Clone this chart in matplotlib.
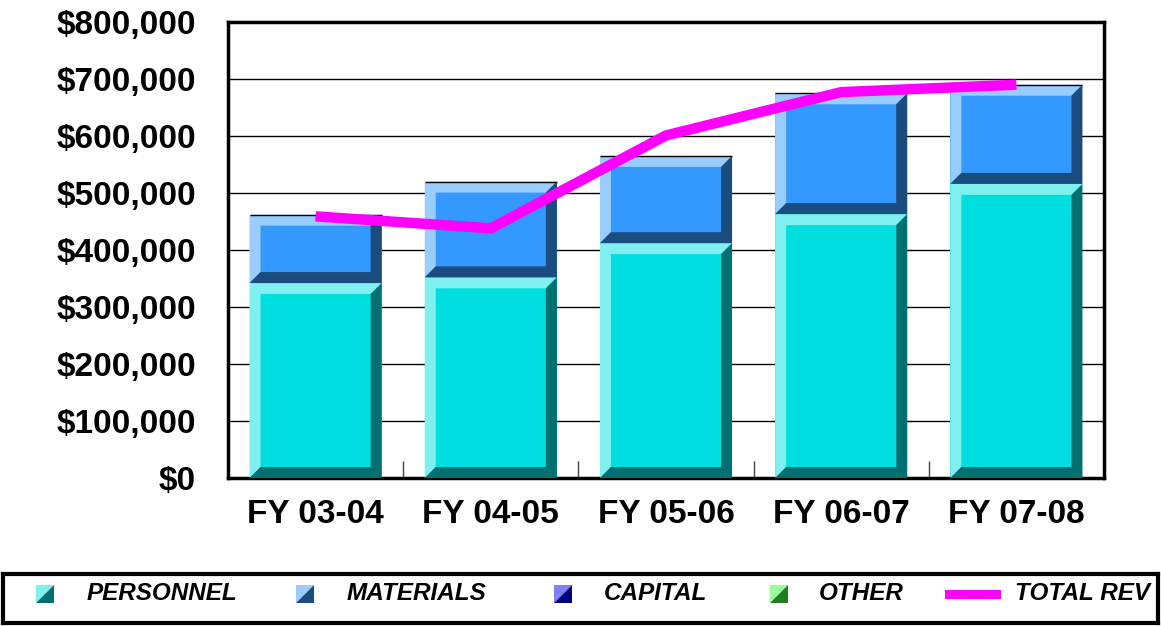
"""Budget vs. revenue chart: stacked bevelled bars with a total revenue line."""
import numpy as np
import matplotlib
matplotlib.use("Agg")
import matplotlib.pyplot as plt
from matplotlib.patches import Polygon, Rectangle
from matplotlib.ticker import FuncFormatter, FixedLocator

plt.rcParams["font.family"] = ["Liberation Sans", "DejaVu Sans"]

years = ["FY 03-04", "FY 04-05", "FY 05-06", "FY 06-07", "FY 07-08"]
personnel = [342000, 352000, 412000, 463000, 516000]
materials = [120000, 168000, 153000, 212000, 174000]
capital = [0, 0, 0, 0, 0]
other = [0, 0, 0, 0, 0]
total_rev = [459000, 438000, 601000, 677000, 690000]

legend_labels = ["PERSONNEL", "MATERIALS", "CAPITAL", "OTHER", "TOTAL REV"]

# (face, light bevel, dark bevel)
colors = {
    "PERSONNEL": ("#00DFDF", "#7FEFEF", "#007070"),
    "MATERIALS": ("#3399FF", "#99CCFF", "#1A4C80"),
    "CAPITAL": ("#3333FF", "#8080FF", "#000080"),
    "OTHER": ("#33CC33", "#99FF99", "#1F7F1F"),
}
line_color = "#FF00FF"

fig = plt.figure(figsize=(11.61, 6.26), dpi=100)
ax = fig.add_axes([228 / 1161, 1 - 478 / 626, 876 / 1161, 456 / 626])

ymax = 800000
ax.set_xlim(-0.5, len(years) - 0.5)
ax.set_ylim(0, ymax)

width = 0.754
# bevel size: ~11 px in both directions, converted to data units
bx = 11 / (876 / len(years))
by = 11 / 456 * ymax


def bevel_bar(x, y0, h, face, light, dark):
    x0, x1 = x - width / 2, x + width / 2
    y1 = y0 + h
    ax.bar(x, h, width, bottom=y0, color=face, linewidth=0, zorder=2)
    ax.add_patch(Polygon([(x0, y0), (x0 + bx, y0 + by), (x0 + bx, y1 - by),
                          (x1 - bx, y1 - by), (x1, y1), (x0, y1)],
                         closed=True, facecolor=light, edgecolor="none", zorder=3))
    ax.add_patch(Polygon([(x0, y0), (x1, y0), (x1, y1), (x1 - bx, y1 - by),
                          (x1 - bx, y0 + by), (x0 + bx, y0 + by)],
                         closed=True, facecolor=dark, edgecolor="none", zorder=3))


xs = np.arange(len(years))
bottom = np.zeros(len(years))
for name, vals in zip(legend_labels[:4], [personnel, materials, capital, other]):
    face, light, dark = colors[name]
    for i, v in enumerate(vals):
        if v > 0:
            bevel_bar(xs[i], bottom[i], v, face, light, dark)
    bottom += np.array(vals)

# thin black cap on top of each stack
ax.hlines(bottom, xs - width / 2, xs + width / 2, colors="black", linewidth=1, zorder=4)

ax.plot(xs, total_rev, color=line_color, linewidth=7.5, solid_capstyle="butt",
        solid_joinstyle="miter", zorder=5)

# grid and axes styling
ax.set_yticks(np.arange(0, ymax + 1, 100000))
ax.yaxis.set_major_formatter(FuncFormatter(lambda v, p: f"${v:,.0f}"))
ax.grid(axis="y", color="black", linewidth=1)
ax.set_axisbelow(True)
ax.tick_params(axis="y", length=0, pad=23, labelsize=24)
for lab in ax.get_yticklabels():
    lab.set_fontweight("bold")

ax.set_xticks(xs)
ax.set_xticklabels(years, fontsize=24, fontweight="bold")
ax.tick_params(axis="x", which="major", length=0, pad=15)
ax.xaxis.set_minor_locator(FixedLocator(xs[:-1] + 0.5))
ax.tick_params(axis="x", which="minor", direction="in", length=12, width=1, color="#444444")

for sp in ax.spines.values():
    sp.set_linewidth(2.5)
    sp.set_color("black")

# legend drawn in its own axes, pixel-like layout units
lax = fig.add_axes([3 / 1161, 3 / 626, 1155 / 1161, 49 / 626])
lax.set_xlim(0, 1155)
lax.set_ylim(0, 49)
lax.set_xticks([])
lax.set_yticks([])
for sp in lax.spines.values():
    sp.set_linewidth(3)
    sp.set_color("black")

marker_x = [33, 293, 551, 767]
text_x = [84, 344, 601, 816, 1012]
my, ms = 20, 18
for name, mx_ in zip(legend_labels[:4], marker_x):
    face, light, dark = colors[name]
    lax.add_patch(Polygon([(mx_, my), (mx_, my + ms), (mx_ + ms, my + ms)],
                          closed=True, facecolor=light, edgecolor="none"))
    lax.add_patch(Polygon([(mx_, my), (mx_ + ms, my), (mx_ + ms, my + ms)],
                          closed=True, facecolor=dark, edgecolor="none"))
lax.add_patch(Rectangle((942, my + 4), 56, 9, facecolor=line_color, edgecolor="none"))

for name, tx in zip(legend_labels, text_x):
    lax.text(tx, my + ms / 2, name, fontsize=17.5, fontweight="bold", fontstyle="italic",
             va="center", ha="left")

fig.savefig("out.png", dpi=100)
